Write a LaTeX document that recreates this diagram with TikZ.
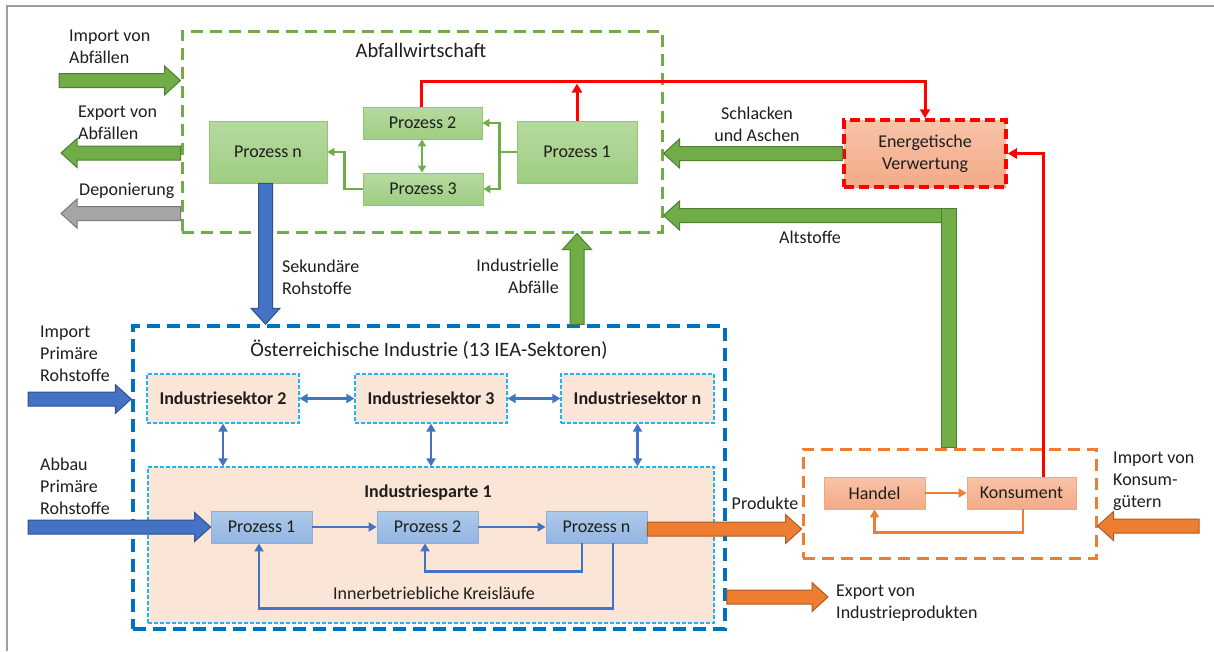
\documentclass[tikz,border=0pt]{standalone}
\usepackage{fontspec}
\setmainfont{Carlito}
\usetikzlibrary{calc,arrows.meta}

\definecolor{grn}{HTML}{70AD47}
\definecolor{grnD}{HTML}{507E32}
\definecolor{grnT}{HTML}{B6DA9F}
\definecolor{grnB}{HTML}{9FCD82}
\definecolor{grnE}{HTML}{93C674}
\definecolor{blu}{HTML}{4472C4}
\definecolor{bluD}{HTML}{2F528F}
\definecolor{bluT}{HTML}{AFCAEA}
\definecolor{bluB}{HTML}{92B5E2}
\definecolor{bluE}{HTML}{8DAEDD}
\definecolor{frameblu}{HTML}{0070C0}
\definecolor{lightblu}{HTML}{1FB4F0}
\definecolor{org}{HTML}{ED7D31}
\definecolor{orgD}{HTML}{AE5A21}
\definecolor{orgT}{HTML}{F8C3A8}
\definecolor{orgB}{HTML}{F4AA87}
\definecolor{orgE}{HTML}{F3A67F}
\definecolor{redl}{HTML}{FF0000}
\definecolor{gry}{HTML}{A5A5A5}
\definecolor{gryD}{HTML}{7B7B7B}
\definecolor{peach}{HTML}{FBE5D6}
\definecolor{txt}{HTML}{1E1E1E}

\newcommand\lblfont{\fontsize{18pt}{22pt}\selectfont}
\newcommand\ttlfont{\fontsize{20.5pt}{24pt}\selectfont}

% block arrow from #2 to #3 (tip at #3)
\newcommand\blockarrow[3][]{%
  \coordinate (ba-hb) at ($(#3)!16pt!(#2)$);
  \path[blockarr,#1]
    ($(#2)!7pt!90:(#3)$) -- ($(ba-hb)!7pt!90:(#3)$) --
    ($(ba-hb)!14.5pt!90:(#3)$) -- (#3) --
    ($(ba-hb)!14.5pt!-90:(#3)$) -- ($(ba-hb)!7pt!-90:(#3)$) --
    ($(#2)!7pt!-90:(#3)$) -- cycle;
}

\begin{document}
\begin{tikzpicture}[x=1pt,y=-1pt,
  lbl/.style={inner sep=0pt, font=\lblfont, text=txt},
  frame/.style={inner sep=0pt, line width=3pt, dash pattern=on 12pt off 7pt},
  procbox/.style={inner sep=0pt, line width=0.8pt, font=\lblfont, text=txt},
  gbox/.style={procbox, draw=grnE, top color=grnT, bottom color=grnB},
  bbox/.style={procbox, draw=bluE, top color=bluT, bottom color=bluB},
  obox/.style={procbox, draw=orgE, top color=orgT, bottom color=orgB},
  sekbox/.style={inner sep=0pt, fill=peach, draw=lightblu, line width=1.2pt,
    dash pattern=on 4pt off 2pt, font=\bfseries\lblfont, text=txt},
  blockarr/.style={line width=1pt, line join=miter},
  gblk/.style={fill=grn, draw=grnD},
  bblk/.style={fill=blu, draw=bluD},
  oblk/.style={fill=org, draw=orgD},
  yblk/.style={fill=gry, draw=gryD},
  gline/.style={draw=grn, line width=2.5pt},
  gtip/.style={-{Triangle[length=7pt,width=8pt]}},
  gdbl/.style={{Triangle[length=7pt,width=8pt]}-{Triangle[length=7pt,width=8pt]}},
  rline/.style={draw=redl, line width=3pt, -{Triangle[length=9pt,width=10pt]}},
  bline/.style={draw=blu, line width=2.5pt},
  btip/.style={-{Triangle[length=8pt,width=9pt]}},
  bdbl/.style={{Triangle[length=8pt,width=9pt]}-{Triangle[length=8pt,width=9pt]}},
  oline/.style={draw=org, line width=2.5pt, -{Triangle[length=8pt,width=9pt]}},
]
\useasboundingbox (0,0) rectangle (1214,651);
\fill[white] (0,0) rectangle (1214,651);
\draw[gray!75, line width=1.5pt] (7,651) -- (7,6) -- (1214,6);

% ---------- frames ----------
\node[frame, draw=grn, minimum width=480pt, minimum height=201pt] (abf) at (422,131.5) {};
\node[frame, draw=frameblu, line width=3.5pt, dash pattern=on 13pt off 7pt,
      minimum width=592pt, minimum height=303pt] (oi) at (429,477.5) {};
\node[frame, draw=org, minimum width=293pt, minimum height=109pt] (orange) at (949.5,503.5) {};

\node[lbl, font=\ttlfont] (abftitle) at (421,50) {Abfallwirtschaft};
\node[lbl, font=\ttlfont] (oititle) at (429,350) {Österreichische Industrie (13 IEA-Sektoren)};

% ---------- waste management ----------
\node[gbox, minimum width=118pt, minimum height=62pt] (pnG) at (268,152) {Prozess n};
\node[gbox, minimum width=119pt, minimum height=32pt] (p2G) at (422.5,123) {Prozess 2};
\node[gbox, minimum width=120pt, minimum height=32pt] (p3G) at (423,189) {Prozess 3};
\node[gbox, minimum width=120pt, minimum height=62pt] (p1G) at (577,152) {Prozess 1};

\node[procbox, top color=orgT, bottom color=orgB, draw=redl, line width=3.5pt,
      dash pattern=on 10pt off 5pt, minimum width=162pt, minimum height=67pt, align=center]
      (energ) at (925,153.5) {Energetische\\Verwertung};

\draw[gline, gtip] (p1G.west) -- ++(-17,0) |- (p2G.east);
\draw[gline, gtip] (p1G.west) -- ++(-17,0) |- (p3G.east);
\draw[gline, gdbl] ([xshift=-0.5pt]p2G.south) -- ([xshift=-1pt]p3G.north);
\draw[gline, gtip] (p3G.west) -- ++(-18,0) |- (pnG.east);

\draw[rline] ([xshift=-1.5pt]p2G.north) -- ++(0,-25) -| (energ.north);
\draw[rline] (p1G.north) -- ++(0,-37);

% ---------- industry ----------
\node[sekbox, minimum width=152pt, minimum height=49pt] (s2) at (223,398.5) {Industriesektor 2};
\node[sekbox, minimum width=152pt, minimum height=49pt] (s3) at (431,398.5) {Industriesektor 3};
\node[sekbox, minimum width=153pt, minimum height=49pt] (sn) at (637.5,398.5) {Industriesektor n};
\node[sekbox, minimum width=566pt, minimum height=156pt] (ip) at (431,545) {};
\node[lbl, font=\bfseries\lblfont] (iptitle) at (428,493) {Industriesparte 1};

\node[bbox, minimum width=101pt, minimum height=32pt] (b1) at (261.5,527) {Prozess 1};
\node[bbox, minimum width=101pt, minimum height=32pt] (b2) at (427.5,527) {Prozess 2};
\node[bbox, minimum width=101pt, minimum height=32pt] (bn) at (596.5,527) {Prozess n};

\draw[bline, bdbl] (s2.east) -- (s3.west);
\draw[bline, bdbl] (s3.east) -- (sn.west);
\draw[bline, bdbl] (s2.south) -- (s2.south |- ip.north);
\draw[bline, bdbl] (s3.south) -- (s3.south |- ip.north);
\draw[bline, bdbl] (sn.south) -- (sn.south |- ip.north);

\draw[bline, btip] (b1.east) -- (b2.west);
\draw[bline, btip] (b2.east) -- (bn.west);
\draw[bline, btip] ([xshift=-14.5pt]bn.south) -- ++(0,28) -| ([xshift=-2.5pt]b2.south);
\draw[bline, btip] ([xshift=16.5pt]bn.south) -- ++(0,65) -| ([xshift=-2.5pt]b1.south);
\node[lbl] (kreis) at (434,593) {Innerbetriebliche Kreisläufe};

% ---------- trade and consumption ----------
\node[obox, minimum width=101pt, minimum height=32pt] (handel) at (874.5,493) {Handel};
\node[obox, minimum width=109pt, minimum height=32pt] (konsum) at (1021.5,493) {Konsument};
\draw[oline] (handel.east) -- (konsum.west);
\draw[oline] ([xshift=1.5pt]konsum.south) -- ++(0,23) -| (handel.south);
\draw[rline] ([xshift=21.5pt]konsum.north) |- (energ.east);

% ---------- material flows (block arrows) ----------
% waste imports / exports / landfill
\coordinate (impAs) at (59,80.5);
\coordinate (impAe) at (impAs -| abf.west);
\blockarrow[gblk]{impAs}{impAe}
\coordinate (expAe) at (61,153);
\coordinate (expAs) at (expAe -| abf.west);
\blockarrow[gblk]{expAs}{expAe}
\coordinate (depe) at (61,213.5);
\coordinate (deps) at (depe -| abf.west);
\blockarrow[yblk]{deps}{depe}

% slag and ash
\coordinate (schle) at (energ.west -| abf.east);
\blockarrow[gblk]{energ.west}{schle}

% recyclables from consumption
\coordinate (altS) at (956,215.5);
\coordinate (altE) at (altS -| abf.east);
\blockarrow[gblk]{altS}{altE}
\coordinate (altB) at (altS |- orange.north);
\path[blockarr, gblk] (941,208) rectangle (altB);

% secondary raw materials and industrial waste
\coordinate (sekS) at ([xshift=-2.5pt]pnG.south);
\coordinate (sekE) at (sekS |- oi.north);
\blockarrow[bblk]{sekS}{sekE}
\coordinate (iaS) at (p1G.south |- oi.north);
\coordinate (iaE) at (p1G.south |- abf.south);
\blockarrow[gblk]{iaS}{iaE}

% primary raw materials
\coordinate (impPs) at (28,399);
\coordinate (impPe) at (impPs -| oi.west);
\blockarrow[bblk]{impPs}{impPe}
\coordinate (abbS) at (28,527);
\blockarrow[bblk]{abbS}{b1.west}

% products
\coordinate (prodS) at ([yshift=-2pt]bn.east);
\coordinate (prodE) at (prodS -| orange.west);
\blockarrow[oblk]{prodS}{prodE}
\coordinate (expIe) at (828,597);
\coordinate (expIs) at (oi.east |- expIe);
\blockarrow[oblk]{expIs}{expIe}
\coordinate (impKs) at (1199,526);
\coordinate (impKe) at (impKs -| orange.east);
\blockarrow[oblk]{impKs}{impKe}

% ---------- labels ----------
\node[lbl, anchor=west, align=left] (limpA) at (69,47) {Import von\\Abfällen};
\node[lbl, anchor=west, align=left] (lexpA) at (78,123) {Export von\\Abfällen};
\node[lbl, anchor=west] (ldep) at (79,191) {Deponierung};
\node[lbl, anchor=west, align=left] (lsek) at (282,277) {Sekundäre\\Rohstoffe};
\node[lbl, anchor=east, align=right] (lia) at (559,276) {Industrielle\\Abfälle};
\node[lbl, align=center] (lschl) at (757,124) {Schlacken\\und Aschen};
\node[lbl] (lalt) at (810,237) {Altstoffe};
\node[lbl, anchor=west, align=left] (limpP) at (40,354) {Import\\Primäre\\Rohstoffe};
\node[lbl, anchor=west, align=left] (labb) at (40,486) {Abbau\\Primäre\\Rohstoffe};
\node[lbl] (lprod) at (765,503) {Produkte};
\node[lbl, anchor=west, align=left] (lexpI) at (836,603) {Export von\\Industrieprodukten};
\node[lbl, anchor=west, align=left] (limpK) at (1113,481) {Import von\\Konsum-\\gütern};
\end{tikzpicture}
\end{document}
